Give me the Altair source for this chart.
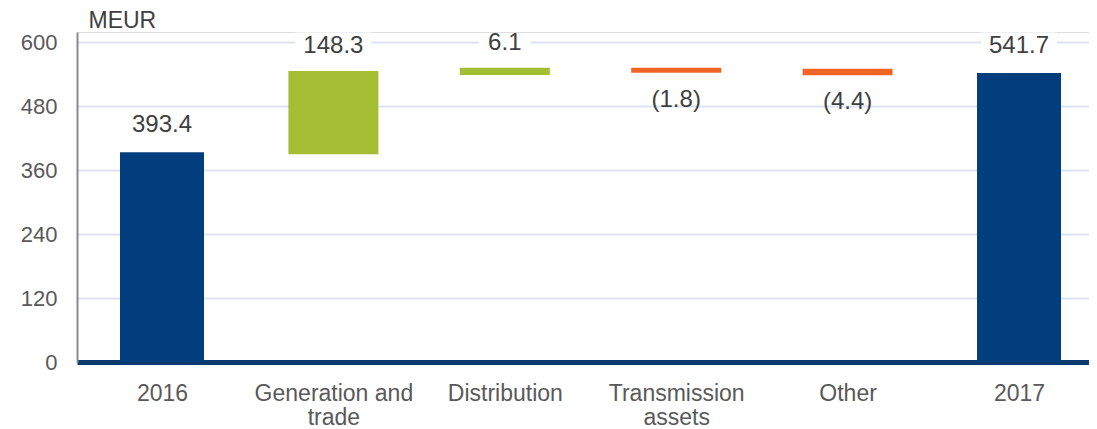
import altair as alt
import pandas as pd

categories = ["2016", "Generation and trade", "Distribution", "Transmission assets", "Other", "2017"]
values = [393.4, 148.3, 6.1, -1.8, -4.4, 541.7]
kinds = ["total", "increase", "increase", "decrease", "decrease", "total"]
labels = ["393.4", "148.3", "6.1", "(1.8)", "(4.4)", "541.7"]
y_ticks = [0, 120, 240, 360, 480, 600]

rows = []
running = 0.0
for i, (c, v, k, l) in enumerate(zip(categories, values, kinds, labels)):
    if k == "total":
        start, end = 0.0, v
        running = v
    else:
        start, end = running, running + v
        running = end
    rows.append({"idx": i, "cat": c, "start": start, "end": end, "kind": k, "label": l,
                 "top": max(start, end), "bottom": min(start, end)})
df = pd.DataFrame(rows)

NAVY = "#023E7D"
GREEN = "#A5BD32"
ORANGE = "#F26426"
FONT = "Liberation Sans"

label_expr = ("datum.value == 0 ? '2016' : datum.value == 1 ? ['Generation and', 'trade'] : "
              "datum.value == 2 ? 'Distribution' : datum.value == 3 ? ['Transmission', 'assets'] : "
              "datum.value == 4 ? 'Other' : '2017'")

xscale = alt.Scale(domain=[-0.4959, 5.4084], nice=False, zero=False, padding=0)
x = alt.X("idx:Q", scale=xscale,
          axis=alt.Axis(title=None, values=list(range(len(categories))), labelAngle=0,
                        ticks=False, labelPadding=20, labelFont=FONT, labelFontSize=23,
                        labelColor="#595959", labelLineHeight=24, labelBound=False,
                        labelFlush=False, labelOverlap=False,
                        domainColor="#0A3A6E", domainWidth=5, grid=False,
                        labelExpr=label_expr))

yscale = alt.Scale(domain=[0, 618.75], nice=False, zero=True, padding=0)
y = alt.Y("start:Q", scale=yscale,
          axis=alt.Axis(values=y_ticks, title="MEUR", titleAngle=0, titleX=11, titleY=-5,
                        titleAlign="left", titleBaseline="alphabetic", titleFont=FONT,
                        titleFontSize=23, titleFontWeight="normal", titleColor="#404040",
                        labelFont=FONT, labelFontSize=22, labelColor="#595959",
                        labelPadding=20, ticks=False, domainColor="#8A8A8A", domainWidth=2,
                        gridColor="#DCE4F0", gridWidth=2))

color = alt.Color("kind:N", scale=alt.Scale(domain=["total", "increase", "decrease"],
                                            range=[NAVY, GREEN, ORANGE]), legend=None)

base = alt.Chart(df)

totals = base.transform_filter("datum.kind == 'total'").mark_bar(width=84).encode(
    x=x, y=y, y2="end:Q", color=color)

changes = base.transform_filter("datum.kind != 'total'").mark_bar(width=86, strokeWidth=4).encode(
    x=x, y=y, y2="end:Q", color=color,
    stroke=alt.Stroke("kind:N", scale=alt.Scale(domain=["total", "increase", "decrease"],
                                                range=[NAVY, GREEN, ORANGE]), legend=None))

box_shape = "M-1,-0.36L1,-0.36L1,0.36L-1,0.36Z"
boxes = base.transform_filter("datum.kind != 'decrease'").transform_calculate(
    bw="pow(length(datum.label) * 12 + 16, 2)"
).mark_point(shape=box_shape, filled=True, color="white", opacity=1, strokeWidth=0).encode(
    x=x, y=alt.Y("top:Q", scale=yscale), size=alt.Size("bw:Q", scale=None, legend=None),
    yOffset=alt.value(-27))

pos_text = base.transform_filter("datum.kind != 'decrease'").mark_text(
    font=FONT, fontSize=24, color="#404040", baseline="middle", dy=-27).encode(
    x=x, y=alt.Y("top:Q", scale=yscale), text="label:N")

neg_text = base.transform_filter("datum.kind == 'decrease'").mark_text(
    font=FONT, fontSize=24, color="#404040", baseline="middle", dy=29).encode(
    x=x, y=alt.Y("bottom:Q", scale=yscale), text="label:N")

chart = alt.layer(totals, changes, boxes, pos_text, neg_text).properties(
    width=1012, height=330,
    autosize=alt.AutoSizeParams(type="none"),
    padding={"left": 69, "top": 24, "right": 0, "bottom": 66},
).configure_view(stroke=None).configure(background="white")

chart.save("out.html", embed_options={"renderer": "svg", "actions": False})
